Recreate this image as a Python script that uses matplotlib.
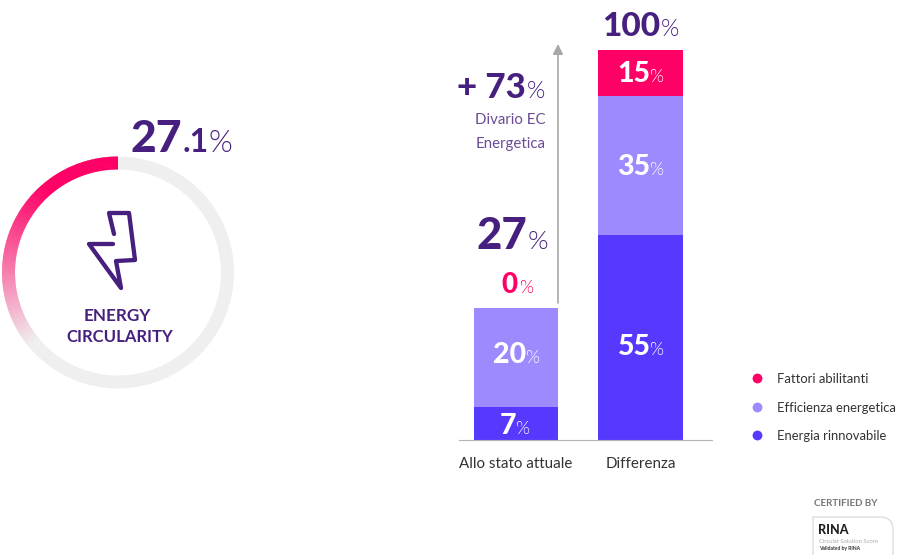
import matplotlib
matplotlib.use("Agg")
import matplotlib.pyplot as plt
import numpy as np
from matplotlib.colors import to_rgb
from matplotlib.patches import Wedge, PathPatch
from matplotlib.path import Path

plt.rcParams["font.family"] = ["Lato", "DejaVu Sans"]

# heights (share of the axis, they don't follow the labels exactly)
categories = ["Allo stato attuale", "Differenza"]
series = ["Energia rinnovabile", "Efficienza energetica", "Fattori abilitanti"]
current_heights = [8.5, 25.4, 0]
gap_heights = [52.6, 35.6, 11.8]
current_labels = ["7", "20", None]
gap_labels = ["55", "35", "15"]
score_arc = 130  # degrees of the coloured ring (fades out into the track)

PURPLE = "#47207f"
PINK = "#ff0066"
LILAC = "#9d8aff"
BLUE = "#5639ff"
GREY = "#efefef"
colors = [BLUE, LILAC, PINK]

W, H = 900, 555
fig = plt.figure(figsize=(W / 100, H / 100), dpi=100)

# bars
ax = fig.add_axes([459 / W, 1 - 440 / H, (712 - 459) / W, 390 / H])
ax.set_xlim(-0.458, 1.574)
ax.set_ylim(0, 100)
bottoms = [0, 0]
for i in range(3):
    vals = [current_heights[i], gap_heights[i]]
    ax.bar([0, 1], vals, width=0.68, bottom=bottoms, color=colors[i])
    bottoms = [bottoms[0] + vals[0], bottoms[1] + vals[1]]
ax.set_xticks([0, 1], categories)
ax.tick_params(axis="x", length=0, pad=12, labelsize=10.9, labelcolor="#333333")
ax.set_yticks([])
for s in ["top", "left", "right"]:
    ax.spines[s].set_visible(False)
ax.spines["bottom"].set_color("#b5b5b5")

# overlay in pixel coordinates
ov = fig.add_axes([0, 0, 1, 1], facecolor="none")
ov.set_xlim(0, W)
ov.set_ylim(H, 0)
ov.axis("off")


def value_text(x, y, num, size, color=PURPLE, pct_size=None, gap=1):
    # number ends at x, the thin % starts right after it
    pct_size = pct_size or size * 0.62
    ov.text(x, y, num, ha="right", va="baseline", fontsize=size, fontweight="black", color=color)
    ov.text(x + gap, y, "%", ha="left", va="baseline", fontsize=pct_size, fontweight=300, color=color)


# labels inside the bars, they don't sit exactly at segment centres in the original
label_y = {"7": 434, "20": 363, "55": 355, "35": 175, "15": 82}
for j, labs in enumerate([current_labels, gap_labels]):
    for lab in labs:
        if lab is not None:
            xpx = [516, 640.5][j] + (0 if lab == "7" else 10)
            value_text(xpx, label_y[lab], lab, 20.5, color="white", pct_size=13, gap=-1)

# ring
cx, cy, R, ring = 118, 272.5, 116, 13
ov.add_patch(Wedge((cx, cy), R, 0, 360, width=ring, color=GREY, lw=0))
n = 130
start, end = np.array(to_rgb(PINK)), np.array(to_rgb(GREY))
for k in range(n):
    t = k / (n - 1)
    c = start + (end - start) * max(0, (t - 0.3) / 0.7) ** 1.1
    a0 = 270 - score_arc * k / n  # y axis is flipped
    a1 = 270 - score_arc * (k + 1) / n
    ov.add_patch(Wedge((cx, cy), R, a1 - 0.3, a0, width=ring, color=tuple(c), lw=0))

ov.text(182, 152, "27", ha="right", va="baseline", fontsize=32, fontweight="black", color=PURPLE)
ov.text(183, 152, ".1", ha="left", va="baseline", fontsize=23, fontweight="bold", color=PURPLE)
ov.text(208, 152, "%", ha="left", va="baseline", fontsize=22, fontweight=300, color=PURPLE)

# lightning icon
bolt = [(114, 234), (109, 213), (129, 213), (135, 260), (116, 261), (121, 288), (89, 244), (113, 244)]
ov.add_patch(PathPatch(Path(bolt), fill=False, ec=PURPLE, lw=3.1, joinstyle="round", capstyle="round"))
ov.text(117.5, 321, "ENERGY", ha="center", va="baseline", fontsize=12.3, fontweight="bold", color=PURPLE)
ov.text(119.5, 342, "CIRCULARITY", ha="center", va="baseline", fontsize=12, fontweight="bold", color=PURPLE)

# arrow and callouts
ov.annotate("", xy=(558, 44), xytext=(558, 303),
            arrowprops=dict(arrowstyle="-|>,head_width=0.3,head_length=0.6", color="#a8a8a8", lw=1.2,
                            shrinkA=0, shrinkB=0))
value_text(526, 98, "+ 73", 25, pct_size=17)
ov.text(546, 124, "Divario EC", ha="right", va="baseline", fontsize=10.8, color="#6b4c96")
ov.text(546, 148, "Energetica", ha="right", va="baseline", fontsize=10.8, color="#6b4c96")
value_text(527, 249, "27", 31.5, pct_size=19)
value_text(518, 293, "0", 20, color=PINK, pct_size=13)
value_text(660, 36, "100", 24, pct_size=17)

# legend
legend_y = [435, 407, 378]
for name, c, y in zip(series, colors, legend_y):
    ov.scatter([757], [y], s=50, color=c, lw=0)
    ov.text(777, y + 5, name, ha="left", va="baseline", fontsize=9.4, color="#333333")

# certification badge
ov.text(814, 506, "CERTIFIED BY", ha="left", va="baseline", fontsize=7, fontweight="bold", color="#777777")
verts = [(813, 555), (813, 517), (880, 517), (893, 517), (893, 530), (893, 555)]
codes = [Path.MOVETO, Path.LINETO, Path.LINETO, Path.CURVE3, Path.CURVE3, Path.LINETO]
ov.add_patch(PathPatch(Path(verts, codes), fill=False, ec="#d5d5d5", lw=0.8))
ov.text(818, 534, "RINA", ha="left", va="baseline", fontsize=9, fontweight="black", color="#222222")
ov.text(819, 543, "Circular Solution Score", ha="left", va="baseline", fontsize=4.2, color="#aaaaaa")
ov.text(819, 550, "Validated by RINA", ha="left", va="baseline", fontsize=3.6, fontweight="bold", color="#333333")

fig.savefig("out.png", dpi=100)
